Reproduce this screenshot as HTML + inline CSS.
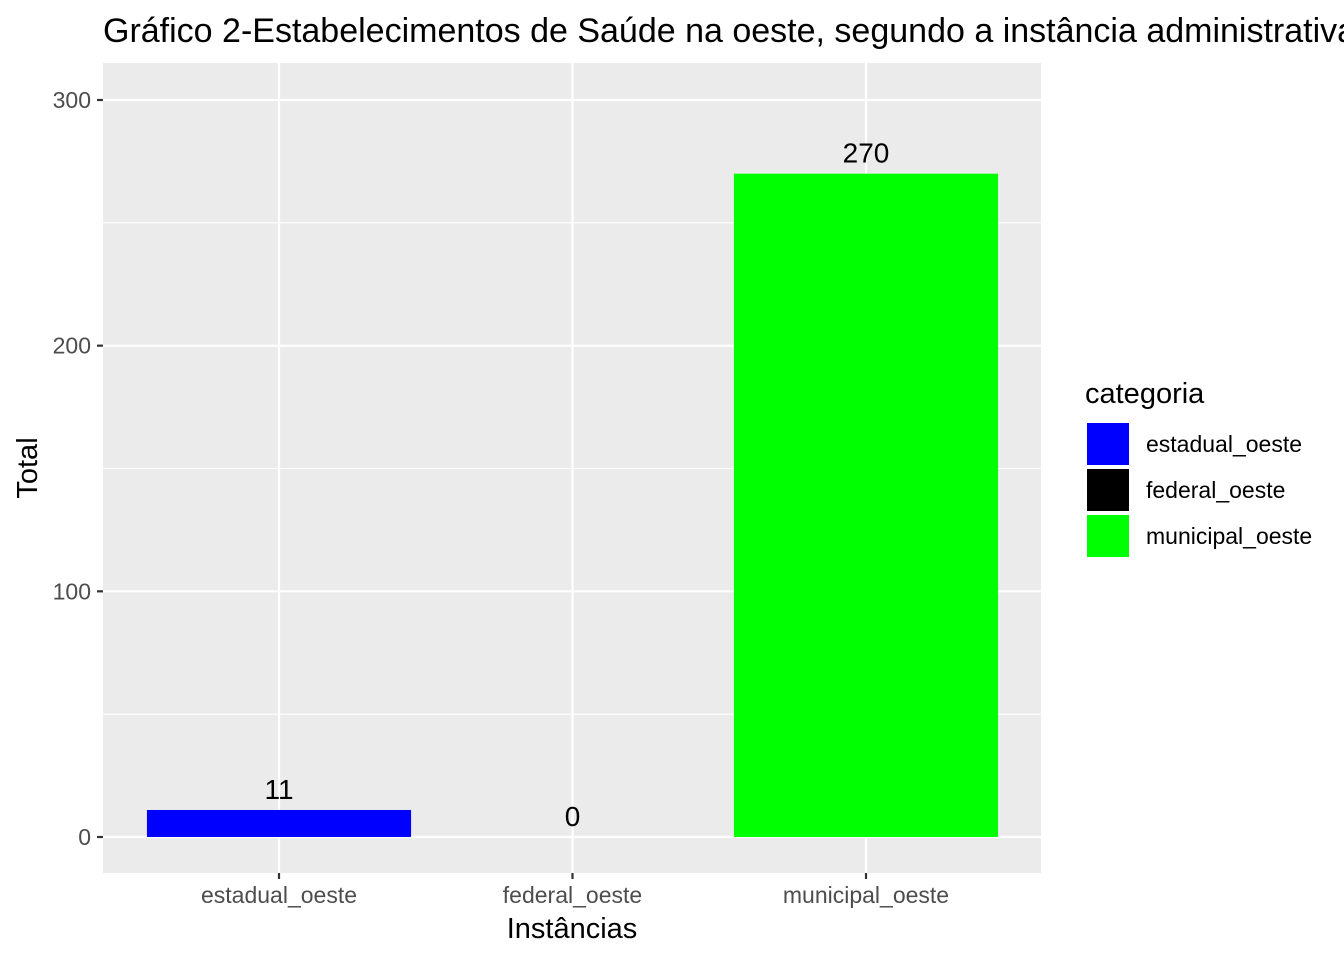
<!DOCTYPE html>
<html><head><meta charset="utf-8"><style>
body{margin:0;background:#fff;}
svg{display:block;font-family:"Liberation Sans",sans-serif;}
</style></head><body>
<svg id="chart" width="1344" height="960" viewBox="0 0 1344 960">
<text x="103" y="42" font-size="34" fill="#000">Gráfico 2-Estabelecimentos de Saúde na oeste, segundo a instância administrativa</text>
<rect x="103" y="63" width="938" height="810" fill="#ebebeb"/>
<g id="grid"></g>
<g id="bars"></g>
<g id="axes"></g>
<text x="572" y="938" font-size="29" text-anchor="middle">Instâncias</text>
<text transform="translate(37,468) rotate(-90)" font-size="29" text-anchor="middle">Total</text>
<g>
<text x="1085" y="403" font-size="29">categoria</text>
<g id="legend"></g>
</g>
</svg>
<script>
const categories = ["estadual_oeste","federal_oeste","municipal_oeste"];
const values = [11, 0, 270];
const colors = ["#0000ff","#000000","#00ff00"];
const yTicks = [0,100,200,300];
const yMinor = [50,150,250];
const NS="http://www.w3.org/2000/svg";
function y(v){return 837 - v*(837-100)/300;}
const band = 293.5;
function xc(i){return 279 + band*i;}
function mk(tag,attrs,parent){const e=document.createElementNS(NS,tag);for(const k in attrs)e.setAttribute(k,attrs[k]);parent.appendChild(e);return e;}
const grid=document.getElementById('grid'), bars=document.getElementById('bars'), axes=document.getElementById('axes'), legend=document.getElementById('legend');
yMinor.forEach(v=>{const l=mk('line',{x1:103,x2:1041,y1:y(v),y2:y(v),stroke:'#fff','stroke-width':1.1},grid);

});
yTicks.forEach(v=>{const l=mk('line',{x1:103,x2:1041,y1:y(v),y2:y(v),stroke:'#fff','stroke-width':2.2},grid);


const t=mk('line',{x1:97,x2:103,y1:y(v),y2:y(v),stroke:'#333','stroke-width':2.2},axes);


const tx=mk('text',{x:91,y:y(v)+8,'font-size':23,'text-anchor':'end',fill:'#4d4d4d'},axes);tx.textContent=v;

});
categories.forEach((c,i)=>{const x=xc(i);
const g=mk('line',{x1:x,x2:x,y1:63,y2:873,stroke:'#fff','stroke-width':2.2},grid);


const t=mk('line',{x1:x,x2:x,y1:873,y2:879,stroke:'#333','stroke-width':2.2},axes);


const tx=mk('text',{x:x,y:903,'font-size':23,'text-anchor':'middle',fill:'#4d4d4d'},axes);tx.textContent=c;


const w=band*0.9;
const b=mk('rect',{x:x-w/2,y:y(values[i]),width:w,height:y(0)-y(values[i]),fill:colors[i]},bars);


const lb=mk('text',{x:x,y:y(values[i])-11,'font-size':28,'text-anchor':'middle',fill:'#000'},bars);lb.textContent=values[i];


const ky=423+i*46;
const k=mk('rect',{x:1087,y:ky,width:42,height:42,fill:colors[i]},legend);


const kt=mk('text',{x:1146,y:ky+29,'font-size':23,fill:'#000'},legend);kt.textContent=c;


});
</script>
</body></html>
